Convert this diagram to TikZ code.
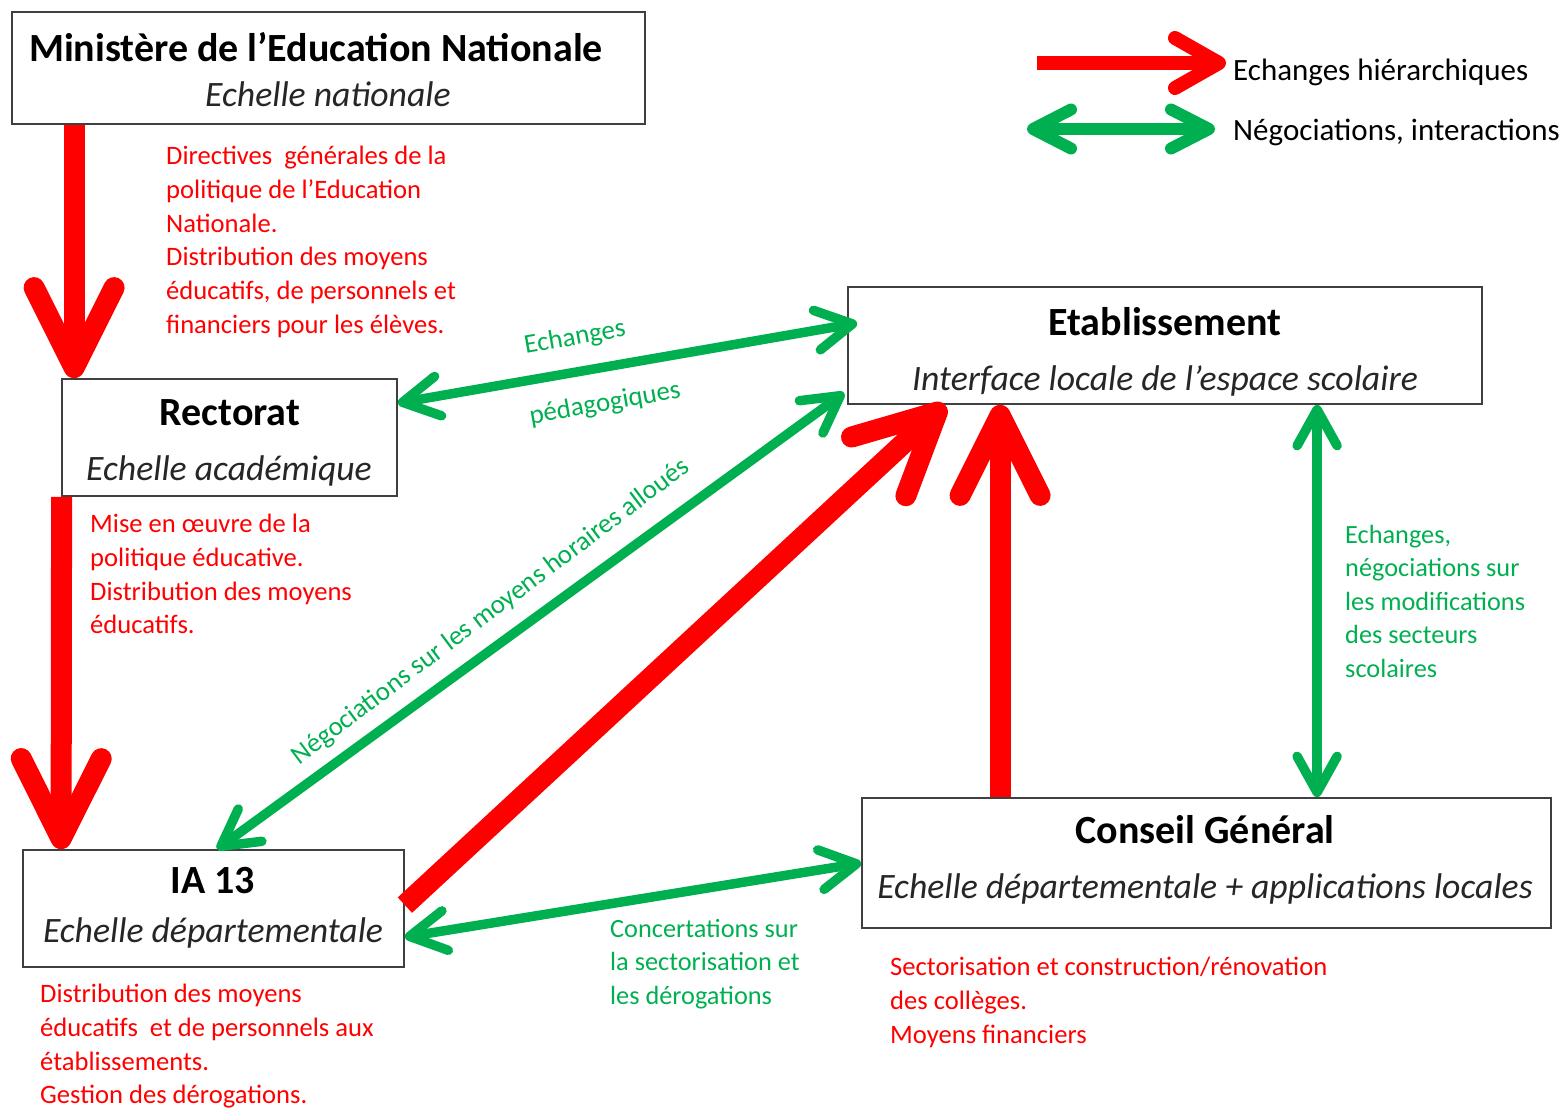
\documentclass[tikz,border=0pt]{standalone}
\usepackage{fontspec}
\setmainfont{Carlito}
\usetikzlibrary{arrows.meta,calc}
\definecolor{offgreen}{RGB}{0,176,80}
\definecolor{offred}{RGB}{255,0,0}
\definecolor{boxgray}{RGB}{64,64,64}
\definecolor{subgray}{RGB}{38,38,38}
\tikzset{
  box/.style={draw=boxgray, line width=1.8pt, fill=white, inner sep=0pt},
  ttl/.style={font=\fontsize{40}{46}\selectfont\bfseries, text=black, inner sep=0pt, anchor=base},
  sub/.style={font=\fontsize{35.7}{42}\selectfont\itshape, text=subgray, inner sep=0pt, anchor=base},
  rnote/.style={font=\fontsize{26.6}{33.7}\selectfont, align=left, anchor=north west, inner sep=0pt, text=offred},
  gnote/.style={font=\fontsize{26.3}{33.5}\selectfont, align=left, anchor=north west, inner sep=0pt, text=offgreen},
  glabel/.style={font=\fontsize{27}{30}\selectfont, text=offgreen, inner sep=0pt},
  legtext/.style={font=\fontsize{31}{36}\selectfont, text=black, inner sep=0pt, anchor=base west},
  hier/.style={draw=offred, line width=21pt, -{Straight Barb[length=80pt,width=80pt,round]}},
  nego/.style={draw=offgreen, line width=9.5pt, {Straight Barb[length=36pt,width=40pt,round]}-{Straight Barb[length=36pt,width=40pt,round]}},
  hierleg/.style={draw=offred, line width=14pt, -{Straight Barb[length=44pt,width=50pt,round]}},
  negoleg/.style={draw=offgreen, line width=12pt, {Straight Barb[length=38pt,width=39pt,round]}-{Straight Barb[length=38pt,width=39pt,round]}},
}
\begin{document}
\begin{tikzpicture}[x=1pt,y=-1pt]
\useasboundingbox (0,0) rectangle (1565,1108);

% boxes
\node[box, minimum width=633pt, minimum height=112pt] (min) at (328.5,68) {};
\node[box, minimum width=335pt, minimum height=117pt] (rect) at (229.5,437.5) {};
\node[box, minimum width=381pt, minimum height=117pt] (ia) at (213.5,908.5) {};
\node[box, minimum width=634pt, minimum height=117pt] (etab) at (1165,345.5) {};
\node[box, minimum width=689pt, minimum height=130pt] (cons) at (1206.5,863) {};

% box texts
\node[ttl] (minT) at (316,61) {Ministère de l’Education Nationale};
\node[sub] (minS) at (328,106) {Echelle nationale};
\node[ttl] (rectT) at (230,425) {Rectorat};
\node[sub] (rectS) at (229,480) {Echelle académique};
\node[ttl] (iaT) at (213,893) {IA 13};
\node[sub] (iaS) at (213,942) {Echelle départementale};
\node[ttl] (etabT) at (1165,335) {Etablissement};
\node[sub] (etabS) at (1165,390) {Interface locale de l’espace scolaire};
\node[ttl] (consT) at (1205,843) {Conseil Général};
\node[sub] (consS) at (1205,898) {Echelle départementale + applications locales};

% hierarchical arrows
\draw[hier] ([xshift=63pt]min.south west) -- ([xshift=13pt]rect.north west);
\draw[hier] ([xshift=0.5pt]rect.south west) -- ([xshift=39pt]ia.north west);
\draw[hier] ([yshift=-56pt]ia.north east) -- ([xshift=98pt]etab.south west);
\draw[hier] ([xshift=139pt]cons.north west) -- ([xshift=153pt]etab.south west);

% negotiation arrows
\draw[nego] ([yshift=-25pt]rect.north east) -- ([xshift=10pt,yshift=-37pt]etab.north west);
\draw[nego] ([xshift=195pt]ia.north west) -- ([xshift=-3pt,yshift=12pt]etab.south west);
\draw[nego] ([xshift=470pt]etab.south west) -- ([xshift=456pt]cons.north west);
\draw[nego] ([yshift=-88pt]ia.north east) -- ([yshift=-66pt]cons.north west);

% arrow labels
\node[glabel, rotate=10] (lbEch) at (575,338) {Echanges};
\node[glabel, rotate=10] (lbPed) at (605,404) {pédagogiques};
\node[glabel, rotate=37] (lbNeg) at (491,612) {Négociations sur les moyens horaires alloués};

% annotations
\node[rnote] (nMin) at (166,146) {Directives\ \ générales de la\\politique de l’Education\\Nationale.\\Distribution des moyens\\éducatifs, de personnels et\\financiers pour les élèves.};
\node[rnote] (nRect) at (90,514) {Mise en œuvre de la\\politique éducative.\\Distribution des moyens\\éducatifs.};
\node[rnote] (nIA) at (40,984) {Distribution des moyens\\éducatifs\ \ et de personnels aux\\établissements.\\Gestion des dérogations.};
\node[rnote] (nCons) at (890,957) {Sectorisation et construction/rénovation\\des collèges.\\Moyens financiers};
\node[gnote] (nConc) at (610,919) {Concertations sur\\la sectorisation et\\les dérogations};
\node[gnote] (nEch) at (1345,525) {Echanges,\\négociations sur\\les modifications\\des secteurs\\scolaires};

% legend
\coordinate (l1a) at (1037,63);
\coordinate (l1b) at (1226,63);
\coordinate (l2a) at (1027,129);
\coordinate (l2b) at (1215,129);
\draw[hierleg] (l1a) -- (l1b);
\draw[negoleg] (l2a) -- (l2b);
\node[legtext] (leg1) at (1233,80) {Echanges hiérarchiques};
\node[legtext] (leg2) at (1233,140) {Négociations, interactions};
\end{tikzpicture}
\end{document}
